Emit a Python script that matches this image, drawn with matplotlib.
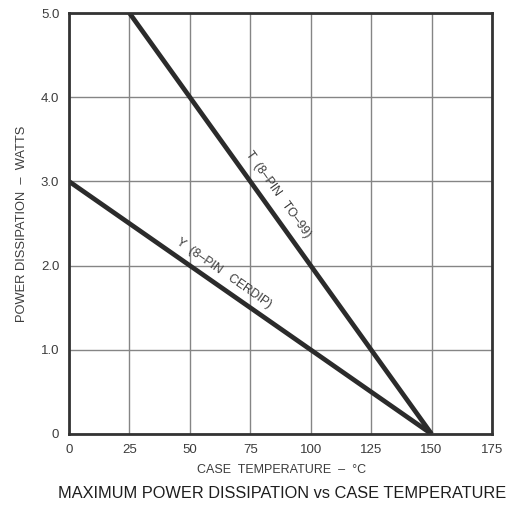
import matplotlib
matplotlib.use('Agg')
import matplotlib.pyplot as plt
import numpy as np

# DATA
temp_t = [25, 150]          # T (8-pin TO-99)
power_t = [5.0, 0.0]
temp_y = [0, 150]           # Y (8-pin cerdip)
power_y = [3.0, 0.0]
x_ticks = [0, 25, 50, 75, 100, 125, 150, 175]
y_ticks = [0, 1.0, 2.0, 3.0, 4.0, 5.0]
y_tick_labels = ['0', '1.0', '2.0', '3.0', '4.0', '5.0']

plt.rcParams['font.family'] = ['Liberation Sans', 'DejaVu Sans']
text_col = '#3c3c3c'

fig = plt.figure(figsize=(5.17, 5.08), dpi=100)
ax = fig.add_axes([0.1335, 0.1457, 0.8181, 0.8287])

ax.set_xlim(0, 175)
ax.set_ylim(0, 5.0)
ax.set_xticks(x_ticks)
ax.set_yticks(y_ticks)
ax.set_yticklabels(y_tick_labels)
ax.tick_params(length=0, pad=7, labelsize=9.5, colors=text_col)
ax.grid(True, color='#858585', linewidth=1.0)
ax.set_axisbelow(True)
for s in ax.spines.values():
    s.set_linewidth(2.0)
    s.set_color('#333333')

# curves
ax.plot(temp_t, power_t, color='#2b2b2b', linewidth=3.4, solid_capstyle='butt')
ax.plot(temp_y, power_y, color='#2b2b2b', linewidth=3.4, solid_capstyle='butt')

# labels along the curves
def line_angle(xs, ys):
    p = ax.transData.transform(np.column_stack([xs, ys]))
    return np.degrees(np.arctan2(p[1, 1] - p[0, 1], p[1, 0] - p[0, 0]))

fig.canvas.draw()
ax.text(86.5, 2.84, 'T  (8\u2013PIN   TO\u201399)', rotation=line_angle(temp_t, power_t),
        rotation_mode='anchor', ha='center', va='center', fontsize=8.8, color=text_col)
ax.text(64.0, 1.91, 'Y  (8\u2013PIN   CERDIP)', rotation=line_angle(temp_y, power_y),
        rotation_mode='anchor', ha='center', va='center', fontsize=8.8, color=text_col)

fig.text(0.043, 0.56, 'POWER DISSIPATION  \u2013  WATTS', rotation=90, ha='center', va='center',
         fontsize=9.3, color=text_col)
fig.text(0.545, 0.0748, 'CASE  TEMPERATURE  \u2013  \u00b0C', ha='center', va='center',
         fontsize=9.0, color=text_col)
fig.text(0.545, 0.0295, 'MAXIMUM POWER DISSIPATION vs CASE TEMPERATURE', ha='center', va='center',
         fontsize=11.8, color='#1e1e1e')

fig.savefig('out.png', dpi=100)
